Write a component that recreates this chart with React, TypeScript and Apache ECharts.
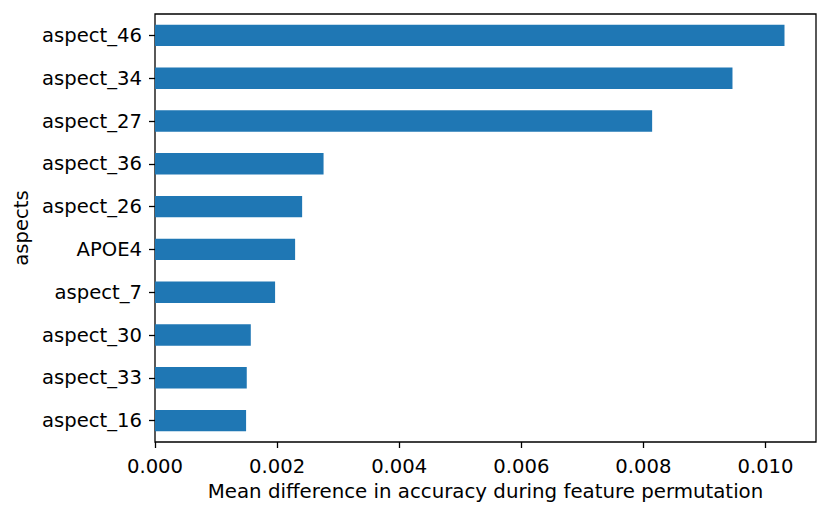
import React, { useEffect, useRef } from "react";
import * as echarts from "echarts";

const categories = ["aspect_46", "aspect_34", "aspect_27", "aspect_36", "aspect_26", "APOE4", "aspect_7", "aspect_30", "aspect_33", "aspect_16"];
const values = [0.010311, 0.009459, 0.008143, 0.002761, 0.00241, 0.002295, 0.001967, 0.001569, 0.001503, 0.001492];
const xTicks = [0, 0.002, 0.004, 0.006, 0.008, 0.01];
const xMax = 0.010827;

const FONT = "DejaVu Sans";
const FS = 19.6;

export default function App() {
  const ref = useRef<HTMLDivElement>(null);
  useEffect(() => {
    const chart = echarts.init(ref.current!, null, { renderer: "svg" });
    chart.setOption({
      animation: false,
      backgroundColor: "#fff",
      grid: {
        left: 155,
        right: 14,
        top: 14,
        bottom: 75,
        show: true,
        borderColor: "#000",
        borderWidth: 1.3,
        backgroundColor: "transparent",
      },
      xAxis: {
        type: "value",
        min: 0,
        max: xMax,
        interval: 0.002,
        name: "Mean difference in accuracy during feature permutation",
        nameLocation: "middle",
        nameGap: 39,
        nameTextStyle: { fontFamily: FONT, fontSize: 19.8, color: "#000", verticalAlign: "top" },
        splitLine: { show: false },
        axisLine: { show: false },
        axisTick: {
          show: true,
          length: 6,
          lineStyle: { color: "#000", width: 1.3 },
          customValues: xTicks,
        },
        axisLabel: {
          fontFamily: FONT,
          fontSize: FS,
          color: "#000",
          margin: 14,
          customValues: xTicks,
          formatter: (v: number) => v.toFixed(3),
        },
      },
      yAxis: {
        type: "category",
        data: categories,
        inverse: true,
        name: "aspects",
        nameLocation: "middle",
        nameGap: 122,
        nameRotate: 90,
        nameTextStyle: { fontFamily: FONT, fontSize: FS, color: "#000" },
        axisLine: { show: false },
        axisTick: { show: true, alignWithLabel: true, length: 6, lineStyle: { color: "#000", width: 1.3 } },
        axisLabel: { fontFamily: FONT, fontSize: FS, color: "#000", margin: 13, padding: [2, 0, 0, 0] },
        splitLine: { show: false },
      },
      series: [
        {
          type: "bar",
          data: values,
          barWidth: "50%",
          itemStyle: { color: "#1f77b4" },
        },
      ],
    });
    return () => chart.dispose();
  }, []);
  return <div ref={ref} style={{ width: 830, height: 517, margin: -8 }} />;
}
